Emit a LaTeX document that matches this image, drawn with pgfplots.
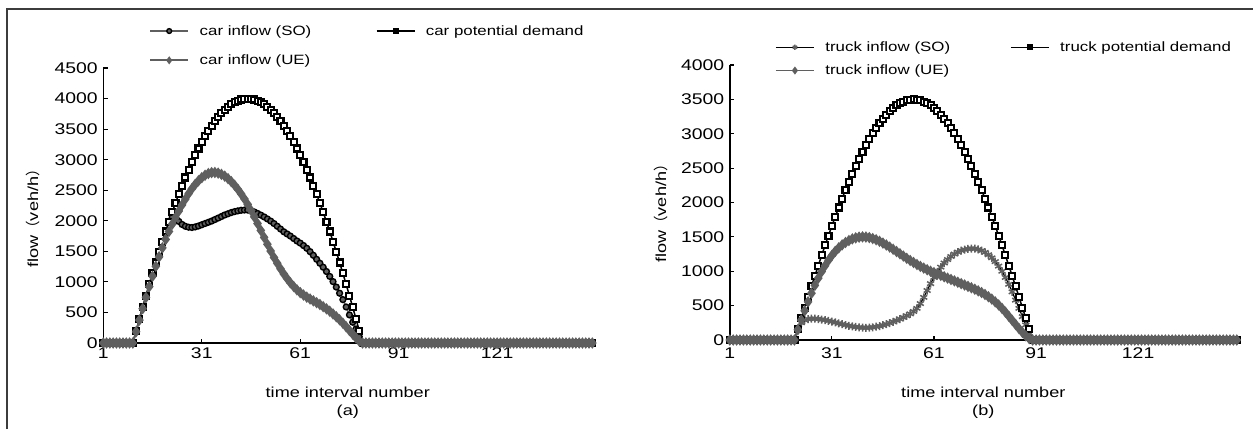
\documentclass[border=0pt]{standalone}
\usepackage{pgfplots}
\pgfplotsset{compat=1.18}
\usepackage{pgfplotstable}
\usepackage{fontspec}
\setmainfont{Liberation Sans}[FakeStretch=1.25]
\newfontfamily\cjk{Noto Sans CJK SC}
\definecolor{mygray}{RGB}{95,95,95}
\definecolor{framegray}{RGB}{60,60,60}

\pgfplotstableread{
x so pd ue
1 0 0 0
2 0 0 0
3 0 0 0
4 0 0 0
5 0 0 0
6 0 0 0
7 0 0 0
8 0 0 0
9 0 0 0
10 0 0 0
11 198 198 185
12 393 393 375
13 585 585 562
14 773 773 745
15 959 959 922
16 1140 1140 1092
17 1318 1318 1255
18 1491 1491 1410
19 1660 1660 1557
20 1825 1825 1695
21 1985 1985 1825
22 2060 2140 1945
23 2050 2290 2055
24 1990 2435 2160
25 1940 2574 2260
26 1910 2708 2355
27 1895 2835 2445
28 1890 2957 2525
29 1900 3073 2595
30 1915 3183 2655
31 1935 3286 2705
32 1955 3382 2745
33 1975 3472 2773
34 1995 3555 2788
35 2020 3632 2790
36 2045 3701 2780
37 2070 3763 2760
38 2095 3819 2730
39 2115 3867 2690
40 2135 3907 2640
41 2150 3941 2582
42 2162 3967 2515
43 2172 3985 2440
44 2176 3996 2358
45 2175 4000 2268
46 2163 3996 2170
47 2145 3985 2065
48 2120 3967 1955
49 2093 3941 1842
50 2063 3907 1728
51 2030 3867 1615
52 1995 3819 1505
53 1955 3763 1400
54 1910 3701 1305
55 1865 3632 1215
56 1820 3555 1130
57 1785 3472 1055
58 1750 3382 985
59 1710 3286 925
60 1670 3183 870
61 1635 3073 825
62 1595 2957 785
63 1550 2835 750
64 1495 2708 720
65 1435 2574 690
66 1370 2435 660
67 1305 2290 630
68 1240 2140 595
69 1170 1985 560
70 1090 1825 520
71 1005 1660 475
72 915 1491 430
73 815 1318 380
74 710 1140 325
75 590 959 265
76 460 773 205
77 340 585 145
78 230 393 85
79 100 198 30
80 0 0 0
81 0 0 0
82 0 0 0
83 0 0 0
84 0 0 0
85 0 0 0
86 0 0 0
87 0 0 0
88 0 0 0
89 0 0 0
90 0 0 0
91 0 0 0
92 0 0 0
93 0 0 0
94 0 0 0
95 0 0 0
96 0 0 0
97 0 0 0
98 0 0 0
99 0 0 0
100 0 0 0
101 0 0 0
102 0 0 0
103 0 0 0
104 0 0 0
105 0 0 0
106 0 0 0
107 0 0 0
108 0 0 0
109 0 0 0
110 0 0 0
111 0 0 0
112 0 0 0
113 0 0 0
114 0 0 0
115 0 0 0
116 0 0 0
117 0 0 0
118 0 0 0
119 0 0 0
120 0 0 0
121 0 0 0
122 0 0 0
123 0 0 0
124 0 0 0
125 0 0 0
126 0 0 0
127 0 0 0
128 0 0 0
129 0 0 0
130 0 0 0
131 0 0 0
132 0 0 0
133 0 0 0
134 0 0 0
135 0 0 0
136 0 0 0
137 0 0 0
138 0 0 0
139 0 0 0
140 0 0 0
141 0 0 0
142 0 0 0
143 0 0 0
144 0 0 0
145 0 0 0
146 0 0 0
147 0 0 0
148 0 0 0
149 0 0 0
150 0 0 0
}\cartable

\pgfplotstableread{
x so pd ue
1 0 0 0
2 0 0 0
3 0 0 0
4 0 0 0
5 0 0 0
6 0 0 0
7 0 0 0
8 0 0 0
9 0 0 0
10 0 0 0
11 0 0 0
12 0 0 0
13 0 0 0
14 0 0 0
15 0 0 0
16 0 0 0
17 0 0 0
18 0 0 0
19 0 0 0
20 0 0 0
21 157 157 150
22 250 314 290
23 290 470 425
24 305 625 555
25 310 779 680
26 310 931 795
27 305 1082 900
28 298 1230 995
29 290 1376 1080
30 280 1519 1160
31 268 1659 1230
32 255 1795 1290
33 242 1928 1340
34 230 2057 1383
35 218 2182 1418
36 207 2303 1447
37 198 2419 1470
38 190 2530 1486
39 184 2636 1496
40 180 2736 1500
41 178 2832 1498
42 180 2921 1490
43 185 3005 1476
44 193 3082 1458
45 203 3153 1436
46 215 3218 1410
47 230 3277 1382
48 247 3329 1352
49 265 3374 1320
50 285 3412 1287
51 305 3444 1254
52 328 3468 1221
53 352 3486 1188
54 380 3496 1157
55 415 3500 1127
56 460 3496 1098
57 530 3486 1071
58 620 3468 1046
59 720 3444 1022
60 820 3412 1000
61 910 3374 980
62 990 3329 960
63 1060 3277 940
64 1120 3218 920
65 1170 3153 900
66 1215 3082 880
67 1250 3005 860
68 1280 2921 840
69 1300 2832 820
70 1315 2736 800
71 1325 2636 780
72 1330 2530 760
73 1328 2419 738
74 1318 2303 715
75 1300 2182 690
76 1275 2057 662
77 1240 1928 630
78 1195 1795 595
79 1140 1659 555
80 1075 1519 510
81 1000 1376 460
82 910 1230 405
83 810 1082 345
84 700 931 285
85 580 779 225
86 460 625 165
87 340 470 110
88 220 314 60
89 100 157 20
90 0 0 0
91 0 0 0
92 0 0 0
93 0 0 0
94 0 0 0
95 0 0 0
96 0 0 0
97 0 0 0
98 0 0 0
99 0 0 0
100 0 0 0
101 0 0 0
102 0 0 0
103 0 0 0
104 0 0 0
105 0 0 0
106 0 0 0
107 0 0 0
108 0 0 0
109 0 0 0
110 0 0 0
111 0 0 0
112 0 0 0
113 0 0 0
114 0 0 0
115 0 0 0
116 0 0 0
117 0 0 0
118 0 0 0
119 0 0 0
120 0 0 0
121 0 0 0
122 0 0 0
123 0 0 0
124 0 0 0
125 0 0 0
126 0 0 0
127 0 0 0
128 0 0 0
129 0 0 0
130 0 0 0
131 0 0 0
132 0 0 0
133 0 0 0
134 0 0 0
135 0 0 0
136 0 0 0
137 0 0 0
138 0 0 0
139 0 0 0
140 0 0 0
141 0 0 0
142 0 0 0
143 0 0 0
144 0 0 0
145 0 0 0
146 0 0 0
147 0 0 0
148 0 0 0
149 0 0 0
150 0 0 0
}\trucktable

\pgfplotsset{
  legend image code/.code={\draw[#1,mark repeat=2,mark phase=2] plot coordinates {(0pt,0pt) (19pt,0pt) (38pt,0pt)};},
  common/.style={
    scale only axis, clip=false,
    xmin=1, xmax=150, ymin=0,
    axis lines*=left,
    axis line style={line width=1.5pt, black},
    tick align=inside, major tick length=4.5pt,
    tick style={black, line width=1.2pt},
    xtick={1,31,61,91,121},
    tick label style={font=\fontsize{15.5}{18}\selectfont},
    /pgf/number format/assume math mode=true,
    /pgf/number format/1000 sep={},
    yticklabel style={xshift=-2pt},
    legend cell align=left,
    legend columns=2,
    legend style={draw=none, fill=none, inner sep=0pt, outer sep=0pt,
      font=\fontsize{13.5}{16}\selectfont, nodes={inner sep=0pt},
      /tikz/every odd column/.append style={column sep=10.6pt}},
    every axis y label/.style={rotate=90, anchor=center, font=\fontsize{14.5}{17}\selectfont},
    every axis x label/.style={align=center, anchor=north, font=\fontsize{14.5}{18.5}\selectfont},
  },
  pdstyle/.style={black, line width=1.5pt, mark=square*, mark size=3pt,
    mark options={draw=black, fill=white, line width=2.1pt, solid},
    legend image post style={mark size=2.2pt, mark options={line width=1.6pt}}},
  uestyle/.style={mygray, line width=1.8pt, mark=diamond*, mark size=4.3pt,
    mark options={draw=mygray, fill=mygray, solid},
    legend image post style={mark size=2.6pt}},
}

\begin{document}
\begin{tikzpicture}
\path[use as bounding box] (0pt,0pt) rectangle (1253pt,429pt);
\draw[line width=1.6pt, framegray] (7pt,0pt) -- (7pt,420pt) -- (1253pt,420pt);

\begin{axis}[common,
  at={(103.3pt,86pt)}, anchor=south west,
  width=489pt, height=275pt,
  ymax=4500, ytick={0,500,...,4500},
  xticklabel style={yshift=-1pt},
  xlabel={time interval number\\(a)},
  ylabel={flow{\cjk （}veh/h{\cjk ）}},
  xlabel style={at={(axis description cs:0.5,-0.1455)}},
  ylabel style={at={(axis description cs:-0.1446,0.4655)}},
  legend style={at={(axis description cs:0.0941,1.1549)}, anchor=north west,
    row sep=18pt, /tikz/every even column/.append style={column sep=64.5pt}},
]
\addplot[mygray, line width=1.5pt, mark=*, mark size=2.9pt,
  mark options={draw=black, fill=mygray, line width=1.4pt, solid},
  legend image post style={mark size=2.4pt}]
  table[x=x, y=so] {\cartable};
\addlegendentry{car inflow (SO)}
\addplot[pdstyle] table[x=x, y=pd] {\cartable};
\addlegendentry{car potential demand}
\addplot[uestyle] table[x=x, y=ue] {\cartable};
\addlegendentry{car inflow (UE)}
\end{axis}

\begin{axis}[common,
  at={(729.8pt,89pt)}, anchor=south west,
  width=507pt, height=275pt,
  ymax=4000, ytick={0,500,...,4000},
  xticklabel style={yshift=-4pt},
  xlabel={time interval number\\(b)},
  ylabel={flow{\cjk （}veh/h{\cjk ）}},
  xlabel style={at={(axis description cs:0.5,-0.1564)}},
  ylabel style={at={(axis description cs:-0.1363,0.4727)}},
  legend style={at={(axis description cs:0.0892,1.085)}, anchor=north west,
    row sep=12pt, /tikz/every even column/.append style={column sep=60pt}},
]
\addplot[black, line width=1.2pt, mark=asterisk, mark size=4pt,
  mark options={draw=mygray, line width=1.5pt, solid},
  legend image post style={mark size=2.6pt}]
  table[x=x, y=so] {\trucktable};
\addlegendentry{truck inflow (SO)}
\addplot[pdstyle] table[x=x, y=pd] {\trucktable};
\addlegendentry{truck potential demand}
\addplot[uestyle] table[x=x, y=ue] {\trucktable};
\addlegendentry{truck inflow (UE)}
\end{axis}
\end{tikzpicture}
\end{document}
